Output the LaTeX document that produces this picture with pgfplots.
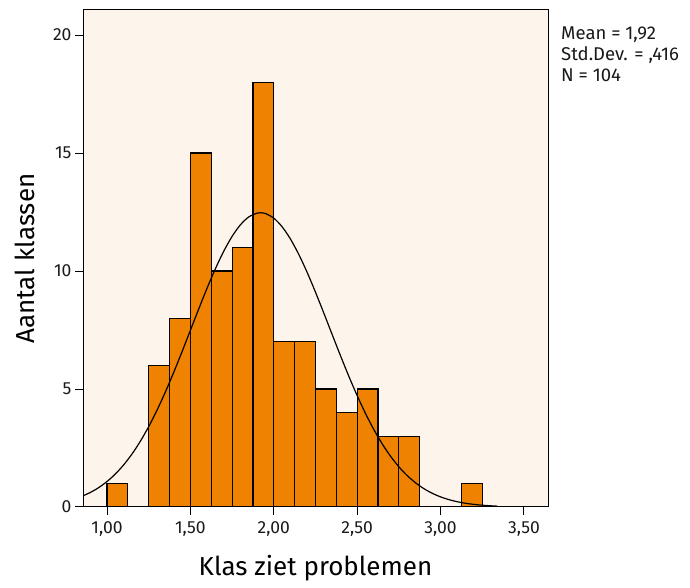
\documentclass[border=0pt]{standalone}
\usepackage{pgfplots}
\pgfplotsset{compat=1.18}
\usepackage{fontspec}
\setmainfont{Fira Sans}
\definecolor{bgcream}{HTML}{FDF5EB}
\definecolor{barorange}{HTML}{EF8200}

% histogram counts, bin width 0.125 (last row = right edge)
\pgfplotstableread{
x    n
1.000 1
1.125 0
1.250 6
1.375 8
1.500 15
1.625 10
1.750 11
1.875 18
2.000 7
2.125 7
2.250 5
2.375 4
2.500 5
2.625 3
2.750 3
2.875 0
3.000 0
3.125 1
3.250 0
}\histdata

\begin{document}
\begin{tikzpicture}
\useasboundingbox (0,0) rectangle (690bp,588bp);
\begin{axis}[
  at={(83bp,81bp)}, anchor=south west,
  scale only axis, width=465bp, height=497bp,
  xmin=0.856, xmax=3.644, ymin=0, ymax=21.06,
  axis background/.style={fill=bgcream},
  axis line style={black, line width=1bp},
  xtick={1,1.5,2,2.5,3,3.5},
  ytick={0,5,10,15,20},
  tick align=outside, xtick pos=bottom, ytick pos=left,
  major tick length=8bp,
  tick style={black, line width=1bp},
  /pgf/number format/assume math mode=true,
  xticklabel style={yshift=-3bp, /pgf/number format/.cd, fixed, fixed zerofill, precision=2, use comma},
  yticklabel style={/pgf/number format/.cd, fixed, precision=0},
  ticklabel style={font=\fontsize{17.5bp}{20bp}\selectfont, color=black!90},
  xlabel={Klas ziet problemen},
  ylabel={Aantal klassen},
  every axis x label/.style={at={(axis description cs:0.5,-0.1227)}, anchor=center,
    font=\fontsize{26bp}{30bp}\selectfont},
  every axis y label/.style={at={(axis description cs:-0.1247,0.5)}, anchor=center, rotate=90,
    font=\fontsize{26bp}{30bp}\selectfont},
]
  \addplot[ybar interval, fill=barorange, draw=black, line width=1.2bp] table[x=x, y=n] {\histdata};
  \addplot[black, line width=1.2bp, smooth] coordinates {
    (0.85,0.456)(0.90,0.617)(0.95,0.822)(1.00,1.080)(1.05,1.399)(1.10,1.787)
    (1.15,2.248)(1.20,2.788)(1.25,3.408)(1.30,4.106)(1.35,4.876)(1.40,5.708)
    (1.45,6.585)(1.50,7.489)(1.55,8.394)(1.60,9.274)(1.65,10.099)(1.70,10.840)
    (1.75,11.468)(1.80,11.959)(1.85,12.292)(1.90,12.453)(1.92,12.467)(1.95,12.435)
    (2.00,12.239)(2.05,11.873)(2.10,11.353)(2.15,10.700)(2.20,9.940)(2.25,9.102)
    (2.30,8.214)(2.35,7.307)(2.40,6.407)(2.45,5.537)(2.50,4.717)(2.55,3.960)
    (2.60,3.278)(2.65,2.674)(2.70,2.150)(2.75,1.703)(2.80,1.331)(2.85,1.025)
    (2.90,0.777)(2.95,0.581)(3.00,0.428)(3.05,0.312)(3.10,0.223)(3.15,0.158)
    (3.20,0.110)(3.25,0.075)(3.30,0.051)(3.34,0.037)
  };
\end{axis}
\node[anchor=north west, align=left, inner sep=0pt,
  font=\fontsize{18.5bp}{21bp}\selectfont, color=black!90] at (561bp,561bp)
  {Mean = 1,92\\Std.Dev. = ,416\\N = 104};
\end{tikzpicture}
\end{document}
